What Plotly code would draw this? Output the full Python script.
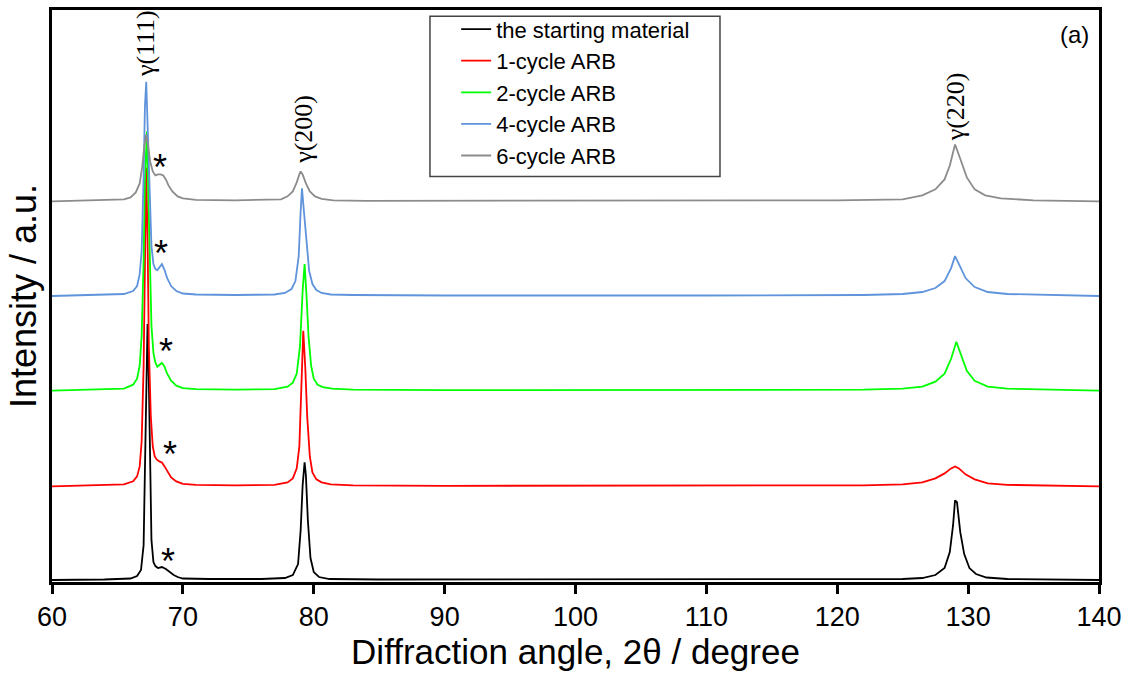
import plotly.graph_objects as go

# XRD patterns: diffraction angle (2θ, degree) vs intensity (a.u.), stacked with vertical offsets
names = ["the starting material", "1-cycle ARB", "2-cycle ARB", "4-cycle ARB", "6-cycle ARB"]
colors = ["#000000", "#ff0000", "#00ff00", "#5f93dc", "#8c8c8c"]
offsets = [2, 96, 192, 287, 382]

angle_start = [60, 64, 66, 66.5, 66.8, 67.0, 67.1, 67.2, 67.3, 67.4, 67.5, 67.6, 67.75, 67.9, 68.1,
               68.4, 68.7, 69.0, 69.3, 69.6, 70.0, 72, 76, 77.8, 78.4, 78.8, 79.0, 79.15, 79.3,
               79.4, 79.55, 79.75, 80.0, 80.4, 81.2, 85, 100, 120, 125, 126.5, 127.5, 128.2, 128.6,
               128.85, 129.0, 129.15, 129.4, 129.7, 130.1, 130.6, 131.4, 133, 137, 140]
int_start = [0, 0.5, 1.5, 4, 10, 35, 110, 210, 257, 200, 100, 40, 18, 14, 12,
             13, 11, 8, 5, 3, 1.5, 1, 1, 2, 5, 16, 50, 95, 118,
             105, 60, 22, 8, 3, 1, 0.5, 0.5, 0.5, 1, 2, 5, 12, 28,
             55, 80, 78, 48, 26, 12, 6, 2.5, 1, 0.5, 0]

angle_arb1 = [60, 64, 65.5, 66.2, 66.5, 66.7, 66.85, 67.0, 67.1, 67.2, 67.3, 67.4, 67.55, 67.7,
              67.85, 68.0, 68.2, 68.4, 68.6, 68.8, 69.1, 69.5, 70.0, 71, 74, 77, 78.0, 78.4, 78.7,
              78.9, 79.05, 79.2, 79.35, 79.5, 79.7, 79.9, 80.2, 80.6, 81.3, 83, 90, 110, 122, 125,
              126.5, 127.5, 128.2, 128.7, 129.0, 129.3, 129.8, 130.5, 131.5, 133, 137, 140]
int_arb1 = [0, 1, 2, 5, 10, 20, 45, 120, 230, 320, 250, 140, 70, 40,
            30, 27, 25, 24, 20, 15, 9, 5, 2.5, 1.5, 1, 1.5, 4, 8, 18,
            40, 100, 156, 120, 70, 30, 14, 7, 4, 2, 1, 0.5, 0.5, 1, 2,
            4, 8, 13, 18, 20, 18, 12, 7, 3, 1.5, 0.5, 0]

angle_arb2 = [60, 64, 65.5, 66.2, 66.5, 66.7, 66.85, 67.0, 67.1, 67.25, 67.35, 67.45, 67.6, 67.75,
              67.9, 68.05, 68.2, 68.4, 68.6, 68.8, 69.1, 69.5, 70.0, 71, 74, 77, 78.0, 78.4, 78.7,
              78.95, 79.15, 79.3, 79.45, 79.6, 79.8, 80.0, 80.3, 80.7, 81.4, 83, 90, 110, 122, 125,
              126.5, 127.5, 128.2, 128.7, 129.1, 129.4, 129.9, 130.5, 131.5, 133, 137, 140]
int_arb2 = [0, 1, 2, 6, 12, 25, 55, 130, 210, 260, 200, 130, 65, 38,
            28, 24, 26, 28, 24, 17, 10, 5, 2.5, 1.5, 1, 1.5, 4, 8, 17,
            45, 100, 127, 95, 55, 25, 12, 6, 3.5, 2, 1, 0.5, 0.5, 1, 2,
            4, 9, 17, 32, 49, 38, 20, 10, 4, 2, 1, 0]

angle_arb4 = [60, 64, 65.5, 66.2, 66.5, 66.7, 66.85, 67.0, 67.1, 67.2, 67.3, 67.45, 67.6, 67.75,
              67.9, 68.05, 68.2, 68.4, 68.6, 68.8, 69.1, 69.5, 70.0, 71, 74, 77, 77.8, 78.3, 78.6,
              78.85, 79.0, 79.1, 79.25, 79.45, 79.65, 79.9, 80.2, 80.6, 81.3, 83, 90, 110, 122, 125,
              126.5, 127.5, 128.2, 128.7, 129.0, 129.3, 129.8, 130.5, 131.5, 133, 137, 140]
int_arb4 = [0, 1, 2, 5, 10, 22, 45, 120, 190, 215, 175, 100, 50, 32,
            27, 26, 29, 32, 26, 18, 10, 5, 2.5, 1.5, 1, 1.5, 3, 7, 15,
            40, 85, 108, 85, 50, 25, 12, 6, 3, 1.5, 1, 0.5, 0.5, 1, 2,
            4, 8, 15, 28, 40, 32, 18, 9, 4, 2, 1, 0]

angle_arb6 = [60, 64, 65.5, 66.0, 66.4, 66.7, 66.9, 67.05, 67.2, 67.35, 67.5, 67.7, 67.9, 68.1,
              68.3, 68.5, 68.7, 68.9, 69.2, 69.6, 70.0, 71, 74, 77.5, 78.0, 78.4, 78.7, 78.9,
              79.0, 79.15, 79.4, 79.7, 80.1, 80.6, 81.5, 84, 100, 120, 125, 126.5, 127.5, 128.2,
              128.6, 128.9, 129.0, 129.2, 129.5, 129.9, 130.5, 131.3, 132.5, 135, 140]
int_arb6 = [0, 1, 2, 4, 9, 18, 35, 55, 67, 55, 40, 30, 26, 27,
            27, 26, 22, 16, 10, 5, 3, 1.5, 1, 2, 5, 10, 19, 27,
            30, 27, 18, 10, 5, 2.5, 1, 0.5, 0.5, 1, 2, 6, 12, 22,
            36, 52, 57, 50, 38, 24, 12, 6, 3, 1, 0]

angles = [angle_start, angle_arb1, angle_arb2, angle_arb4, angle_arb6]
intensities = [int_start, int_arb1, int_arb2, int_arb4, int_arb6]

# Peak indices (label, angle, vertical position) and impurity markers (angle, height)
peak_labels = ["γ(111)", "γ(200)", "γ(220)"]
peak_label_x = [67.2, 79.2, 129.05]
peak_label_y = [540, 454, 477]
star_x = [68.86, 69.0, 68.71, 68.35, 68.25]
star_y = [21, 128, 231, 330, 416]

xticks = [60, 70, 80, 90, 100, 110, 120, 130, 140]

fig = go.Figure()
for name, color, off, xs, ys in zip(names, colors, offsets, angles, intensities):
    fig.add_trace(go.Scatter(
        x=xs, y=[v + off for v in ys], mode="lines", name=name,
        legendgroup=name,
        line=dict(color=color, width=1.8),
    ))

annotations = []
for txt, px, py in zip(peak_labels, peak_label_x, peak_label_y):
    annotations.append(dict(x=px, y=py, xref="x", yref="y", text=txt, showarrow=False,
                            textangle=-90, font=dict(family="Liberation Serif", size=26, color="#000")))
for sx, sy in zip(star_x, star_y):
    annotations.append(dict(x=sx, y=sy, xref="x", yref="y", text="*", showarrow=False,
                            yanchor="middle",
                            font=dict(family="Liberation Sans", size=36, color="#000")))
annotations.append(dict(x=0.992, y=0.985, xref="paper", yref="paper", text="(a)", showarrow=False,
                        xanchor="right", yanchor="top",
                        font=dict(family="Liberation Sans", size=24, color="#000")))

fig.update_layout(
    width=1129, height=682,
    margin=dict(l=52, r=30, t=8, b=100),
    paper_bgcolor="white", plot_bgcolor="white",
    font=dict(family="Liberation Sans", color="#000"),
    showlegend=True,
    legend=dict(x=0.386, y=1.003, xanchor="left", yanchor="top",
                bgcolor="rgba(0,0,0,0)", borderwidth=0,
                font=dict(size=22, color="#000"),
                traceorder="grouped", tracegroupgap=0,
                itemwidth=30),
    annotations=annotations,
    shapes=[dict(type="rect", xref="paper", yref="paper",
                 x0=0.361, x1=0.638, y0=0.709, y1=0.989,
                 line=dict(color="#444", width=1.5))],
    xaxis=dict(range=[60, 140], tickmode="array", tickvals=xticks,
               ticktext=[str(v) for v in xticks],
               ticks="outside", ticklen=9, tickwidth=2.5,
               tickcolor="#000", showline=True, linecolor="#000", linewidth=2.5, mirror=True,
               showgrid=False, zeroline=False,
               tickfont=dict(family="Liberation Sans", size=27, color="#000"),
               title=dict(text="Diffraction angle, 2θ / degree",
                          font=dict(size=35, color="#000"), standoff=8)),
    yaxis=dict(range=[0, 574], showticklabels=False, ticks="", showline=True, linecolor="#000",
               linewidth=2.5, mirror=True, showgrid=False, zeroline=False,
               title=dict(text="Intensity / a.u.", font=dict(size=36, color="#000"), standoff=2)),
)

fig.write_html("out.html")
